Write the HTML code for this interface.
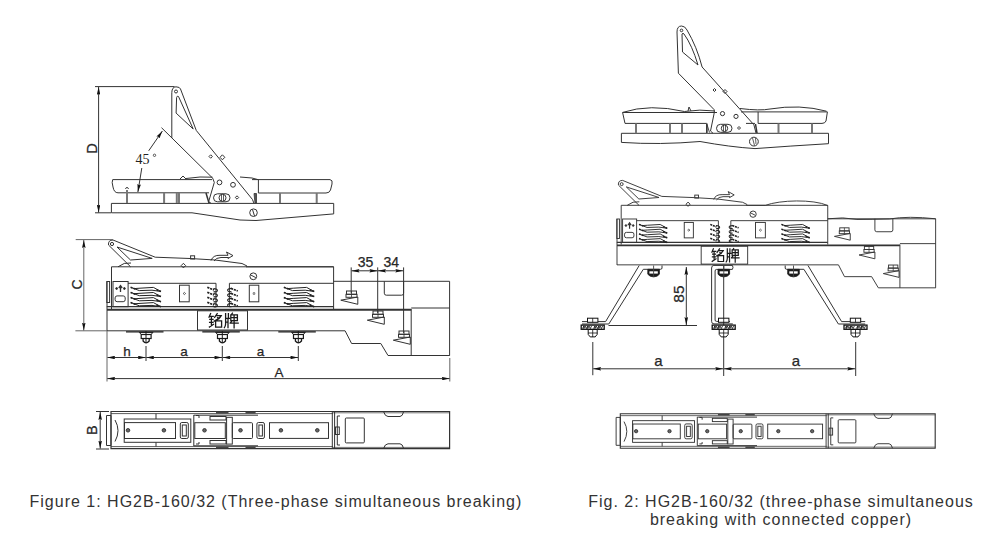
<!DOCTYPE html>
<html><head><meta charset="utf-8">
<style>
html,body{margin:0;padding:0;background:#fff;width:1000px;height:555px;overflow:hidden}
svg{position:absolute;left:0;top:0}
.t{font-family:"Liberation Sans",sans-serif;fill:#2a2a2a}
.cap{font-family:"Liberation Sans",sans-serif;font-size:16px;letter-spacing:1.0px;fill:#333}
</style></head><body>
<svg width="1000" height="555" viewBox="0 0 1000 555">
<defs>
<marker id="ae" viewBox="0 0 10 4" refX="10" refY="2" markerWidth="8" markerHeight="3.6" markerUnits="userSpaceOnUse" orient="auto" preserveAspectRatio="none"><path d="M0,0 L10,2 L0,4 L1.5,2 z" fill="#111"/></marker>
<marker id="as" viewBox="0 0 10 4" refX="0" refY="2" markerWidth="8" markerHeight="3.6" markerUnits="userSpaceOnUse" orient="auto" preserveAspectRatio="none"><path d="M10,0 L0,2 L10,4 L8.5,2 z" fill="#111"/></marker>

<!-- ================= FRONT BODY (fig1 coordinates) ================= -->
<g id="front">
  <!-- lever -->
  <path d="M113,240 Q108,240 108.5,245 L130.6,266.8" />
  <path d="M113,240 L155.2,257.2 L190,258.5 L215,260 L242,263.5 L247,266" />
  <path d="M117,247 L152.2,258.4 L130.5,260 Z" />
  <circle cx="112" cy="244" r="1.6"/>
  <path d="M118,266.8 Q124,262 131,263" />
  <rect x="190.6" y="255.8" width="4" height="3.2"/>
  <path d="M183.4,263.3 L185.6,265.6 L183.4,267.9 L181.2,265.6 Z" />
  <path d="M211,260.5 Q213,255 220,255.3 L228,255.3 L226.5,252 L233,255.6 L228,258.5 L228.5,257.5 L221,257.5 Q216,257.6 214,261" />
  <!-- upper box -->
  <path d="M111.5,309 L111.5,266.8 L333.6,266.8 L333.6,309" />
  <circle cx="253.3" cy="276.3" r="3.4"/>
  <path d="M250.8,275 L255.8,277.6"/>
  <!-- panel -->
  <path d="M128,283.3 L216,283.3 L216,306.7 M229.4,306.7 L229.4,283.3 L333.6,283.3"/>
  <path d="M106.8,306.7 L333.6,306.7" stroke-width="1.2"/>
  <rect x="106.8" y="281.5" width="2.8" height="21"/>
  <rect x="113" y="281.5" width="15.1" height="25.2"/>
  <rect x="115.1" y="295.9" width="10.1" height="5.8" rx="2"/>
  <path d="M120.5,285.5 L120.5,292 M118.8,288 L120.5,285.6 L122.2,288" stroke-width="1.3"/>
  <circle cx="116.6" cy="288.5" r="0.9" fill="#222"/>
  <circle cx="124.4" cy="288.5" r="0.9" fill="#222"/>
  <!-- waves -->
  <g id="wv" stroke="#222">
    <path d="M130.8,287.4 L139.3,290.6 L152,290.2 L160.9,291.5" stroke-width="1"/>
    <path d="M134,288.6 L140,288.2 L153.4,287.4 L160.9,291.5" stroke-width="1"/>
    <path d="M130.6,287.3 L136,289.3 M156.5,289.8 L161,291.5" stroke-width="1.6" stroke-dasharray="2 1"/>
  </g>
  <use href="#wv" transform="translate(0,5.1)"/>
  <use href="#wv" transform="translate(0,10.2)"/>
  <use href="#wv" transform="translate(0,15.2)"/>
  <use href="#wv" transform="translate(153.2,0)"/>
  <use href="#wv" transform="translate(153.2,5.1)"/>
  <use href="#wv" transform="translate(153.2,10.2)"/>
  <use href="#wv" transform="translate(153.2,15.2)"/>
  <!-- springs -->
  <g id="spL" stroke="#222">
    <path d="M207.3,287.3 L214,290" stroke-width="1.7" stroke-dasharray="2.2 0.8"/>
    <path d="M213.4,288.6 Q217.6,288.8 217.4,290.6 Q217,292.4 213.6,291.6" stroke-width="1.1"/>
  </g>
  <use href="#spL" transform="translate(0,5)"/>
  <use href="#spL" transform="translate(0,10)"/>
  <use href="#spL" transform="translate(0,15)"/>
  <g id="spR" stroke="#222">
    <path d="M231,288.4 L237.8,291" stroke-width="1.7" stroke-dasharray="2.2 0.8"/>
    <path d="M231.6,288.4 Q227.4,288.6 227.6,290.4 Q228,292.2 231.4,291.6" stroke-width="1.1"/>
  </g>
  <use href="#spR" transform="translate(0,5)"/>
  <use href="#spR" transform="translate(0,10)"/>
  <use href="#spR" transform="translate(0,15)"/>
  <!-- base -->
  <path d="M107,309.8 L411.2,309.8" stroke-width="2"/>
  <path d="M107,281.5 L107,331"/>
  <path d="M107,330.8 L345.1,330.8 L351.6,343.5 L380.8,343.5 L388,355.5 L449.8,355.5" />
  <rect x="197.5" y="310.8" width="50" height="19.2"/>
  <!-- extension -->
  <path d="M333.6,281.3 L449.6,281.3 L449.6,355.5"/>
  <path d="M384.3,281.3 L384.3,293.2 Q384.3,295.2 386.3,295.2 L401.6,295.2 Q403.6,295.2 403.6,293.2 L403.6,281.3"/>
  <path d="M411.2,308 L449.6,308 M411.2,309 L411.2,355.5"/>
</g>

<!-- chinese label glyphs -->
<g id="mingpai" stroke="#1a1a1a" stroke-width="1.3" fill="none" stroke-linecap="square">
  <path d="M210.6,313.6 L209,317.2 M209.8,316.3 L213.2,316.3 M209.8,319.3 L213,319.3 M209.6,322.3 L213,322.3 M211.4,316.3 L211.4,325.6 M209.4,327 L213.4,324.4"/>
  <path d="M217.2,313.6 L214.6,317.4 M216,315.6 L221.2,315.6 Q219,319.5 214.2,321.2 M217.6,317.6 L219,318.6 M215.6,320.8 L215.6,327.2 L221.6,327.2 L221.6,320.8 Z"/>
  <path d="M225.6,313.6 L225.6,324 Q225.4,326.5 224.4,327.6 M228.4,313.6 L228.4,318.4 M225.6,318.4 L229.8,318.4 M228,318.4 L228,327.6 M225.6,322.2 L228,322.2"/>
  <path d="M232.4,313.2 L231.4,314.6 M230.8,314.8 L237.4,314.8 L237.4,320.6 L230.8,320.6 Z M230.8,317.6 L237.4,317.6 M234.1,314.8 L234.1,327.8 M230.2,323.2 L238.2,323.2 M232,320.8 L230.6,322.6"/>
</g>

<!-- ================= PLAN VIEW (fig1 coords) ================= -->
<g id="plan">
  <path d="M111,411.5 L449.6,411.5 L449.6,448.6 L111,448.6 Z" stroke-width="1.2"/>
  <path d="M111,413.6 L333,413.6 M111,446.6 L333,446.6" stroke-width="0.8"/>
  <path d="M106.5,415.5 L111,415.5 L111,445.5 L106.5,445.5 Z"/>
  <path d="M115,420 Q121,430.5 115,441.5"/>
  <rect x="124.2" y="419" width="66.6" height="23.3"/>
  <rect x="124.5" y="422.6" width="51" height="15.9"/>
  <rect x="180.3" y="422.5" width="8" height="16" rx="1.5"/>
  <rect x="182.3" y="425" width="4" height="11"/>
  <path d="M156,413.6 L156,419 M156,442.3 L156,446.6"/>
  <g fill="#666" stroke="#222" stroke-width="0.8"><circle cx="128" cy="430.3" r="1.8"/><circle cx="163.9" cy="430.3" r="1.8"/>
  <circle cx="204.5" cy="430.3" r="1.8"/><circle cx="240.5" cy="430.3" r="1.8"/>
  <circle cx="280.9" cy="430.3" r="1.8"/><circle cx="317.3" cy="430.3" r="1.8"/></g>
  <!-- middle -->
  <path d="M193.8,415 L193.8,446"/>
  <rect x="194.8" y="422.7" width="30.5" height="15.8"/>
  <rect x="226.6" y="417.3" width="5.7" height="26.8"/>
  <rect x="232.3" y="422.7" width="20.2" height="15.8" rx="1"/>
  <rect x="210" y="416.5" width="16" height="3.5"/>
  <rect x="210" y="440.5" width="16" height="3.5"/>
  <path d="M196,415.5 L199,415.5 L199,418 M196,444 L199,444 L199,442"/>
  <path d="M193.8,415.2 L258,415.2 M193.8,445.8 L258,445.8"/>
  <rect x="256.9" y="422.5" width="7.5" height="16" rx="1.5"/>
  <rect x="258.9" y="425" width="3.5" height="11"/>
  <rect x="269.5" y="422.7" width="59" height="15.7"/>
  <path d="M332.3,411.5 L332.3,448.6 M334.6,411.5 L334.6,448.6"/>
  <path d="M340,416 L337.3,416 L337.3,445 L340,445"/>
  <path d="M333,412.8 L449.6,412.8 M333,447.4 L449.6,447.4" stroke-width="0.7"/>
  <path d="M216,412.6 L228.5,412.6 M245.5,412.6 L255.6,412.6 M216,447.5 L228.5,447.5 M245.5,447.5 L255.6,447.5" stroke-width="1.6" stroke="#444"/>
  <rect x="335.5" y="427" width="3.8" height="7.5"/>
  <rect x="345.3" y="418" width="19" height="24.9" rx="1"/>
  <path d="M383.5,411.5 Q385,416.5 388,416.5 L400,416.5 Q402.5,416.5 403.7,411.5"/>
  <path d="M383.5,448.6 Q385,443.8 388,443.8 L400,443.8 Q402.5,443.8 403.7,448.6"/>
</g>
</defs>

<g stroke="#333" stroke-width="1" fill="none">
<!-- ================= FIG1 TOP VIEW ================= -->
  <!-- D dimension -->
  <path d="M95,86.6 L174.5,86.6 M95,212.8 L111,212.8"/>
  <path d="M98.6,87 L98.6,212.5" marker-start="url(#as)" marker-end="url(#ae)"/>
  <!-- base -->
  <path d="M111.4,212.8 L111.4,203.4 L333.7,203.4 L333.7,213.9 L256,220.5 L240,220 L192,212.8 Z"/>
  <circle cx="253.5" cy="212.7" r="3.8"/>
  <path d="M252.5,209.5 L254.5,216"/>
  <!-- tray -->
  <path d="M112.7,179.6 L212,179.6 M252,179.6 L330,179.6 Q333,180 332,184 L330.5,190 Q329.5,193 326,193 L258.4,193 M112.7,179.6 Q111.5,182 113,187 Q114,192.8 118,192.8 L209,192.8"/>
  <path d="M258.4,179.6 L258.4,193"/>
  <path d="M180,179 L183,176 L186,179 M186,178.5 L200,177 L212.5,177.2"/>
  <path d="M240,177 L252,178 L258,179.6"/>
  <!-- pillars -->
  <g stroke="#777" stroke-width="2">
    <path d="M127,190 L127,203 M164.1,193 L164.1,203 M176.8,193 L176.8,203 M179,193 L179,203 M280,193 L280,203 M316.7,193 L316.7,203"/>
  </g>
  <path d="M125.5,189 Q127,185.5 128.5,189"/>
  <path d="M254,193.5 L256.5,193.5 L256.5,203 L255,203 Z" fill="#555" stroke-width="0.8"/>
  <path d="M206,193 L209,203" stroke-width="1.5"/>
  <!-- handle -->
  <path d="M171.8,138 L171.8,92.5 Q172,87 176,86.8 Q180,87 180.5,89 L196.3,130.5 L252.4,199.4 L254,203.4"/>
  <path d="M161.5,127.7 L212.7,178.2 L214.3,182.4 L208.6,201.8 L211,203.2"/>
  <circle cx="176" cy="91.5" r="1.5"/>
  <path d="M176.6,97.5 Q177,95.5 178.5,96.5 L193.2,129 L176.1,113.1 Z"/>
  <circle cx="219.5" cy="182.4" r="2.4"/>
  <circle cx="233" cy="184.8" r="2.4"/>
  <path d="M210.7,154.8 L212.4,156.5 L210.7,158.2 L209,156.5 Z"/>
  <path d="M222.4,154.8 L224.8,157.3 L222.4,159.8 L220,157.3 Z"/>
  <path d="M237,195.8 L238.7,197.5 L237,199.2 L235.3,197.5 Z"/>
  <rect x="213.5" y="193.8" width="16.5" height="8" rx="4"/>
  <circle cx="222.5" cy="197.8" r="3.5"/>
  <path d="M221.5,194.5 L221.5,201 M223.5,194.5 L223.5,201" stroke-width="0.8"/>
  <!-- 45 deg -->
  <path d="M148.7,150.8 L162.4,131" marker-end="url(#ae)"/>
  <path d="M141.8,168 L137.9,192" marker-end="url(#ae)"/>
  <text x="135.5" y="163.7" style="font-family:'Liberation Serif',serif;font-size:14px" fill="#222" stroke="none">45</text>
  <circle cx="154.5" cy="155.3" r="1.2" stroke-width="0.8"/>

<!-- ================= FIG1 FRONT ================= -->
  <use href="#front"/>
  <path d="M246,266.8 L333.6,266.8"/>
  <!-- nuts -->
  <g id="nut1" stroke="#1a1a1a">
    <path d="M126,331.9 L163.5,331.9" stroke-width="1.3"/>
    <path d="M139.3,332.4 L153,332.4 L151,334.5 L141.3,334.5 Z"/>
    <rect x="141.2" y="334.5" width="9.9" height="4" stroke-width="1.2"/>
    <path d="M146,331 L146,343"/>
    <path d="M143.1,338.5 L143.1,341 Q146,344.6 149.2,341 L149.2,338.5" stroke-width="1.3"/>
  </g>
  <use href="#nut1" transform="translate(76.3,0)"/>
  <use href="#nut1" transform="translate(152.3,0)"/>
  <use href="#mingpai"/>
  <rect x="179.5" y="285.2" width="9.7" height="16.6"/>
  <rect x="249.3" y="285.2" width="9.5" height="16.6"/>
  <path d="M184.4,292.4 L185.6,293.5 L184.4,294.6 L183.2,293.5 Z M254,292.4 L255.2,293.5 L254,294.6 L252.8,293.5 Z" stroke-width="0.8"/>
  <!-- C dim -->
  <path d="M75.7,239.6 L113,239.6 M75.4,330.8 L107,330.8" stroke="#666"/>
  <path d="M83.8,240 L83.8,330.5" marker-start="url(#as)" marker-end="url(#ae)" stroke="#666"/>
  <!-- 35/34 -->
  <path d="M351.2,267.4 L351.2,293 M377.7,267.4 L377.7,313 M403.6,267.4 L403.6,333"/>
  <path d="M351.5,270.8 L377.4,270.8" marker-start="url(#as)" marker-end="url(#ae)"/>
  <path d="M378,270.8 L403.3,270.8" marker-start="url(#as)" marker-end="url(#ae)"/>
  <!-- wedge bolts -->
  <g id="wb">
    <rect x="346.5" y="291" width="10" height="3.3"/>
    <rect x="346" y="294.3" width="11" height="3"/>
    <path d="M351.5,291 L351.5,297.3" stroke-width="0.8"/>
    <path d="M340.8,300.2 L357.8,297 L357.8,304.3 Z"/>
  </g>
  <use href="#wb" transform="translate(26.5,20)"/>
  <use href="#wb" transform="translate(52.5,40)"/>
  <!-- bolt dims -->
  <path d="M146,346 L146,361 M222.3,346 L222.3,361 M298.3,346 L298.3,361"/>
  <path d="M107.3,357.5 L145.7,357.5" marker-start="url(#as)" marker-end="url(#ae)"/>
  <path d="M146.3,357.5 L222,357.5" marker-start="url(#as)" marker-end="url(#ae)"/>
  <path d="M222.6,357.5 L298,357.5" marker-start="url(#as)" marker-end="url(#ae)"/>
  <path d="M449.8,358 L449.8,381.5 M107,331 L107,381.5" stroke="#666"/>
  <path d="M107.3,378.6 L449.5,378.6" marker-start="url(#as)" marker-end="url(#ae)"/>

<!-- ================= FIG1 PLAN ================= -->
  <use href="#plan"/>
  <path d="M96,411.5 L109,411.5 M96,449 L109,449"/>
  <path d="M100.2,412 L100.2,448.6" marker-start="url(#as)" marker-end="url(#ae)"/>

<!-- ================= FIG2 TOP VIEW ================= -->
  <!-- base -->
  <path d="M621.4,133.3 L828.5,133.3 L828.5,143.7 Q790,146 755,148.6 Q730,147 700,141.5 Q660,145 621.4,142.4 Z"/>
  <circle cx="753.9" cy="141.6" r="4.4"/>
  <path d="M752.5,138 L754.5,145.5 M755.5,138 L756,144" stroke-width="0.8"/>
  <!-- tray -->
  <path d="M622.6,112.4 Q650,103.5 684.4,111.5 Q700,109 715,111 M740,108.5 Q760,111 770,109 Q800,104 826.5,111.2"/>
  <path d="M622.6,112.5 L717,112.5 M741,111.9 L827.4,111.9 L826,121 Q825,123.4 822,123.4 L758.1,123.4 M758.1,111.9 L758.1,123.4"/>
  <path d="M622.6,112.5 L625,123.4 L707,123.4"/>
  <path d="M746,123.4 L755,123.4"/>
  <path d="M688,111 L689,107 L691,111"/>
  <g stroke="#777" stroke-width="2">
    <path d="M636,123.4 L636,133.3 M670,123.4 L670,133.3 M682,123.4 L682,133.3 M707,123.4 L707,133.3 M778.5,123.4 L778.5,133.3 M812,123.4 L812,133.3"/>
  </g>
  <path d="M755.5,124 L757,133" stroke-width="1.5"/>
  <!-- handle -->
  <path d="M678.4,73.2 L677,32 Q677,26 681.5,26 Q685,26 687,30 Q697,47 702.1,67 L753.9,124.8 L756,133"/>
  <path d="M678.4,73.2 L714,109.5 Q714.8,112 713.8,115 L710.5,131 L713,133.3"/>
  <path d="M707,124.5 L709.5,132.5 M706.5,124 L706.5,133" stroke-width="0.9"/>
  <circle cx="681.5" cy="30.4" r="1.3"/>
  <path d="M682,34 L682.5,52 L698,65 Q692,45 684,34 Q683,32.5 682,34 Z"/>
  <circle cx="722.5" cy="113.6" r="2.1"/>
  <circle cx="736" cy="116.4" r="2.1"/>
  <path d="M714.5,88.5 L716,90 L714.5,91.5 L713,90 Z"/>
  <path d="M725,89.5 L727,91.5 L725,93.5 L723,91.5 Z"/>
  <path d="M739,126.5 L740.5,128 L739,129.5 L737.5,128 Z"/>
  <rect x="716.5" y="124.3" width="15.5" height="8" rx="4"/>
  <circle cx="724.5" cy="128.3" r="3.2"/>
  <path d="M723.5,125 L723.5,131.5 M725.5,125 L725.5,131.5" stroke-width="0.8"/>

<!-- ================= FIG2 FRONT ================= -->
  <g transform="matrix(0.93,0,0,0.93,517.5,-42.8)">
    <use href="#front"/>
    <use href="#mingpai"/>
    <use href="#wb"/>
    <use href="#wb" transform="translate(26.5,20)"/>
    <use href="#wb" transform="translate(52.5,40)"/>
    <path d="M246,266.8 L266.6,266.8 C282,261 318,260 333.6,267"/>
    <rect x="179.3" y="285.2" width="9.8" height="16.6"/>
    <rect x="255.9" y="285.2" width="10.6" height="16.6"/>
    <path d="M184.2,292.4 L185.4,293.5 L184.2,294.6 L183,293.5 Z M261.2,292.4 L262.4,293.5 L261.2,294.6 L260,293.5 Z" stroke-width="0.8"/>
    <path d="M333.6,281.3 Q350,279 365,282 Q380,282 400,281.5 Q420,278 449.6,281.3"/>
  </g>
  <!-- legs -->
  <g id="legL">
    <path d="M639.2,265.5 L605.6,321.6 L582,321.6"/>
    <path d="M662,265.5 L662,268 Q662,269.3 660.5,269.3 L643.3,269.3 L608.8,324 L582,324"/>
  </g>
  <use href="#legL" transform="translate(1447.2,0) scale(-1,1)"/>
  <path d="M732.4,265.4 L713.8,265.4 Q711.6,265.6 711.6,268 L711.6,321.4 Q711.6,323.9 714,323.9 L732.8,323.9"/>
  <path d="M732.4,269.4 L716.6,269.4 Q715.1,269.4 715.1,271 L715.1,320 Q715.1,321.4 716.6,321.4 L730,321.4"/>
  <path d="M732.4,265.4 Q733.6,267.4 732.4,269.4"/>
  <path d="M723.7,266 L723.7,376"/>
  <g id="tn">
    <path d="M647.8,269.3 L659.4,269.3 L659.4,274.2 Q657.5,276.9 653.6,276.9 Q649.7,276.9 647.8,274.2 Z" fill="#1c1c1c" stroke="#1c1c1c" stroke-width="0.8"/>
    <rect x="649.4" y="271.3" width="8.4" height="2.3" fill="#fff" stroke="none"/>
    <path d="M653.6,265.5 L653.6,277" stroke="#444" stroke-width="0.9"/>
  </g>
  <use href="#tn" transform="translate(70.2,0)"/>
  <use href="#tn" transform="translate(139.9,0)"/>
  <g id="hb" stroke="#111">
    <rect x="587.5" y="318.2" width="10.4" height="4.1" fill="#fff"/>
    <path d="M592.7,318.2 L592.7,322.3" stroke-width="0.8"/>
    <rect x="581.2" y="325.1" width="23" height="4.2" fill="#fff" stroke-width="1.3"/>
    <path d="M582.5,328.6 L583.8,325.9 L583.8,328.6 L585.1,325.9 L586.4,328.6 L587.7,325.9 L587.7,328.6 L589,325.9 L590.3,328.6 L591.6,325.9 M593.6,328.6 L594.9,325.9 L594.9,328.6 L596.2,325.9 L597.5,328.6 L598.8,325.9 L598.8,328.6 L600.1,325.9 L601.4,328.6 L602.7,325.9" stroke-width="0.8"/>
    <path d="M588.2,329.5 L597.2,329.5 L597.2,334.4 L595.2,336.9 L590.2,336.9 L588.2,334.4 Z" fill="#fff"/>
    <path d="M588.2,333 L597.2,333 M592.7,329.5 L592.7,337" stroke-width="0.8"/>
  </g>
  <use href="#hb" transform="translate(131,0)"/>
  <use href="#hb" transform="translate(262.8,0)"/>
  <!-- 85 dim -->
  <path d="M608.5,325.5 L697,325.5"/>
  <path d="M686.3,267 L686.3,325" marker-start="url(#as)" marker-end="url(#ae)"/>
  <!-- a dims -->
  <path d="M592.8,342 L592.8,375.2 M855.7,342 L855.7,376"/>
  <path d="M593.2,368.8 L723.2,368.8" marker-start="url(#as)" marker-end="url(#ae)"/>
  <path d="M723.8,368.8 L855.3,368.8" marker-start="url(#as)" marker-end="url(#ae)"/>

<!-- ================= FIG2 PLAN ================= -->
  <g transform="matrix(0.93,0,0,0.93,517.07,31)">
    <use href="#plan"/>
  </g>
</g>

<!-- text labels -->
<g class="t" fill="#1e1e1e" stroke="#1e1e1e" stroke-width="0.25">
  <text transform="translate(96.6,148.4) rotate(-90)" text-anchor="middle" font-size="14.5">D</text>
  <text transform="translate(82.2,284.5) rotate(-90)" text-anchor="middle" font-size="14">C</text>
  <text transform="translate(97.2,430.2) rotate(-90)" text-anchor="middle" font-size="14.5">B</text>
  <text x="365.6" y="267.4" text-anchor="middle" font-size="14">35</text>
  <text x="391.2" y="267.4" text-anchor="middle" font-size="14">34</text>
  <text x="127" y="356.4" text-anchor="middle" font-size="13.5">h</text>
  <text x="184" y="356.4" text-anchor="middle" font-size="13.5">a</text>
  <text x="260.6" y="356.4" text-anchor="middle" font-size="13.5">a</text>
  <text x="278.9" y="377" text-anchor="middle" font-size="13.5">A</text>
  <text transform="translate(683.6,294) rotate(-90)" text-anchor="middle" font-size="15.5">85</text>
  <text x="658.4" y="365.6" text-anchor="middle" font-size="15">a</text>
  <text x="796" y="365.6" text-anchor="middle" font-size="15">a</text>
</g>
<text class="cap" x="29.5" y="506.5">Figure 1: HG2B-160/32 (Three-phase simultaneous breaking)</text>
<text class="cap" x="781" y="506.5" text-anchor="middle">Fig. 2: HG2B-160/32 (three-phase simultaneous</text>
<text class="cap" x="781" y="525" text-anchor="middle">breaking with connected copper)</text>
</svg>
</body></html>
